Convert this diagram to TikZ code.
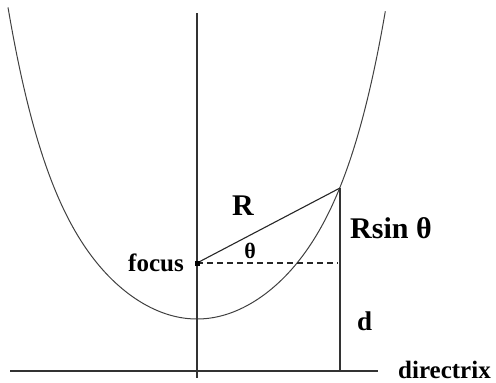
\documentclass[tikz,border=0pt]{standalone}
\usepackage{fontspec}
\setmainfont{Liberation Serif}
\usetikzlibrary{calc}
\begin{document}
\begin{tikzpicture}[x=1pt,y=-1pt,
  axis/.style={draw=black!80,line width=1.4pt},
  curve/.style={draw=black!75,line width=1pt},
  lbl/.style={inner sep=0pt,font=\bfseries\fontsize{25}{25}\selectfont},
  biglbl/.style={inner sep=0pt,font=\bfseries\fontsize{30}{30}\selectfont},
  thlbl/.style={inner sep=0pt,font=\bfseries\fontsize{22}{22}\selectfont}]
\useasboundingbox (0,0) rectangle (496,383);
% points
\coordinate (top) at (197,13);
\coordinate (bot) at (197,378);
\coordinate (dl) at (10,371);
\coordinate (dr) at (378,371);
\coordinate (F) at (197,263);
\coordinate (P) at (340,188);
\coordinate (Pd) at (340,371);
\coordinate (H) at (338,263);
% parabola
\draw[curve] plot[domain=-1.89:1.885,samples=120,smooth] ({197+100*\x},{319-53.3*\x*\x-2.66*(\x*\x)^3});
% axes
\draw[axis] (top) -- (bot);
\draw[axis] (dl) -- (dr);
\draw[axis] (P) -- (Pd);
\draw[black!85,line width=1.1pt] (F) -- (P);
\draw[black!85,line width=1.1pt,dash pattern=on 6pt off 4pt] (F) -- (H);
\fill[black] ($(F)+(-2.5,-2.5)$) rectangle ($(F)+(2.5,2.5)$);
% labels
\node[lbl,anchor=base east] (focus) at (184,271) {focus};
\node[biglbl,anchor=base west] (R) at (232,215) {R};
\node[thlbl,anchor=base] (th) at (250,258) {θ};
\node[biglbl,anchor=base west] (Rs) at (350,238) {Rsin θ};
\node[lbl,anchor=base west,font=\bfseries\fontsize{27}{27}\selectfont] (d) at (357,330) {d};
\node[lbl,anchor=base west] (dir) at (398,378) {directrix};
\end{tikzpicture}
\end{document}
